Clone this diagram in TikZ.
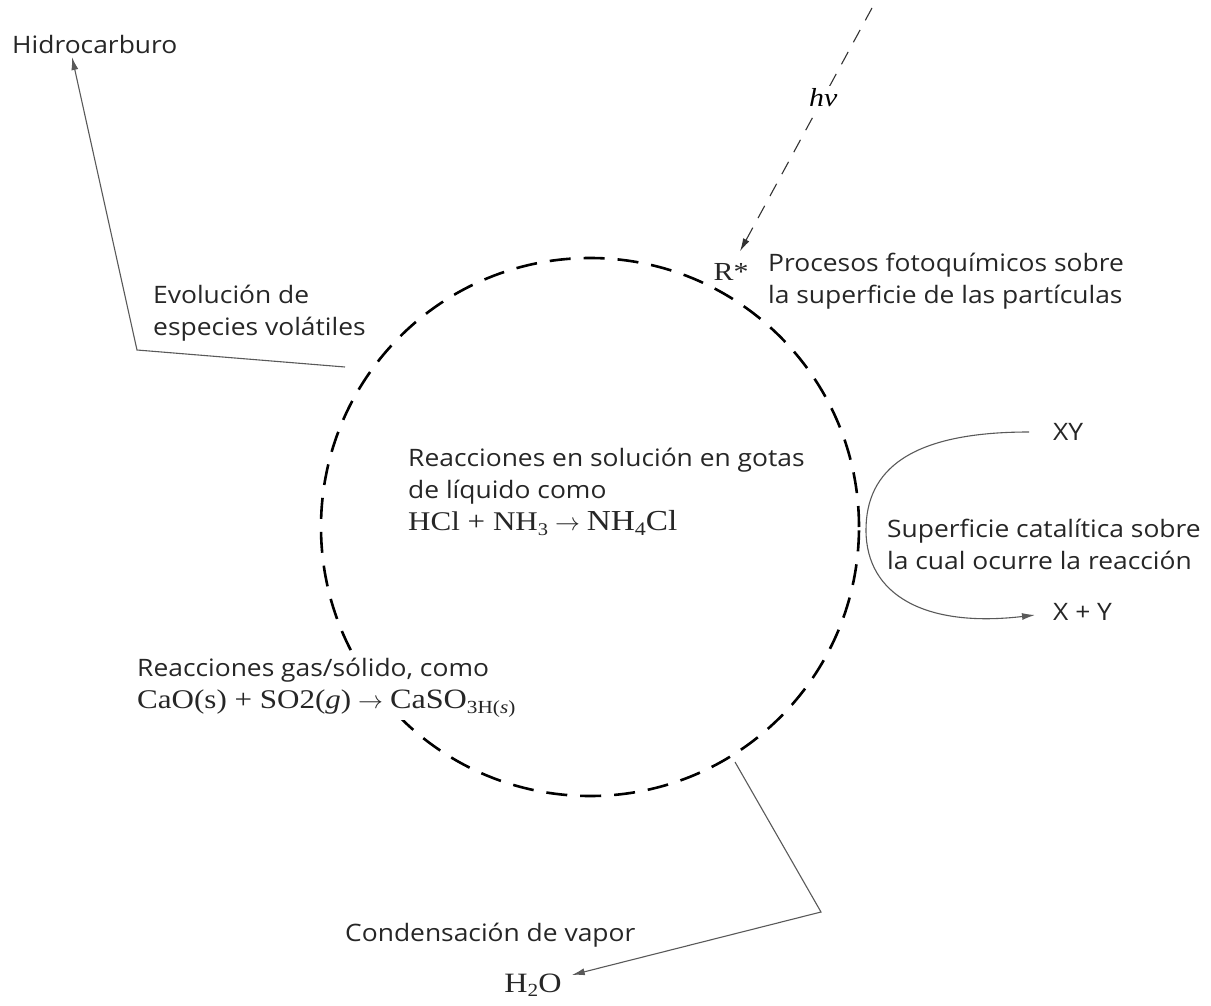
\documentclass[tikz,border=0pt]{standalone}
\usepackage{fontspec}
\setmainfont{Open Sans}[FakeStretch=1.1]
\newfontfamily\chemfont{Liberation Serif}[FakeStretch=1.15]
\usetikzlibrary{calc,positioning,arrows.meta}

\newcommand{\chsub}[1]{\raisebox{-0.35ex}{\scalebox{0.66}{#1}}}
\newcommand{\yields}{\ensuremath{\;\rightarrow\;}}

\begin{document}
\begin{tikzpicture}[x=1pt,y=-1pt]

\tikzstyle{note} = [anchor=west,align=left,inner sep=0pt,text=black!85,font=\fontsize{24}{32}\selectfont]
\tikzstyle{chem} = [inner sep=2pt,text=black!85,font=\chemfont\fontsize{26}{32}\selectfont]
\tikzstyle{drop} = [circle,draw=black,line width=2.6pt,dash pattern=on 21pt off 13pt,minimum size=538pt,inner sep=0]
\tikzstyle{conn} = [draw=black!65,line width=1.1pt,-{Latex[length=13pt,width=7pt]}]
\tikzstyle{photon} = [conn,draw=black!80,dash pattern=on 14pt off 11pt]

\useasboundingbox (0,0) rectangle (1211,1006);

\node[drop] (gota) at (590,527) {};

% texts around the droplet
\node[note] (hidro) at (12,45) {Hidrocarburo};
\node[note] (volat) at (153,313) {Evolución de\\especies volátiles};
\node[note] (foto) at (768,281) {Procesos fotoquímicos sobre\\la superficie de las partículas};
\node[note] (catal) at (887,544) {Superficie catalítica sobre\\la cual ocurre la reacción};
\node[note] (solu) at (408,492) {Reacciones en solución en gotas\\de líquido como\\
  {\chemfont\fontsize{27}{32}\selectfont HCl + NH\chsub{3}\yields{\fontsize{29}{32}\selectfont NH\chsub{4}Cl}}};
\node[note,fill=white,inner sep=3pt] (gassol) at (134,688) {Reacciones gas/sólido, como\\
  {\chemfont\fontsize{27}{32}\selectfont CaO(s) + SO2(\textit{g})\yields{\fontsize{28}{32}\selectfont CaSO\chsub{3H(\textit{s})}}}};
\node[note] (conden) at (345,935) {Condensación de vapor};

\node[chem] (rstar) at (731,272) {R*};
\node[chem,font=\chemfont\fontsize{28}{34}\selectfont] (agua) at (533,985) {H\chsub{2}O};
\node[note] (xy) at (1053,432) {XY};
\node[note] (xmy) at (1053,612) {X + Y};

\coordinate (volout) at (345,367);
\coordinate (volbend) at (137,350);
\coordinate (hidtip) at (72,57);
\coordinate (sol) at (872,8);
\coordinate (condout) at (735,762);
\coordinate (condbend) at (821,912);

\draw[conn] (volout) -- (volbend) -- (hidtip);
\draw[photon] (sol) -- node[pos=0.37,fill=white,inner sep=3pt,font=\chemfont\itshape\fontsize{26}{30}\selectfont] {hν} ($(rstar.north)+(9,-10)$);
\draw[conn] ($(xy.west)+(-24,0)$)
    .. controls (910,432) and (866,470) .. (866,530)
    .. controls (866,595) and (925,628) .. ($(xmy.west)+(-18,3)$);
\draw[conn] (condout) -- (condbend) -- ($(agua.east)+(8,-10)$);

\end{tikzpicture}
\end{document}
